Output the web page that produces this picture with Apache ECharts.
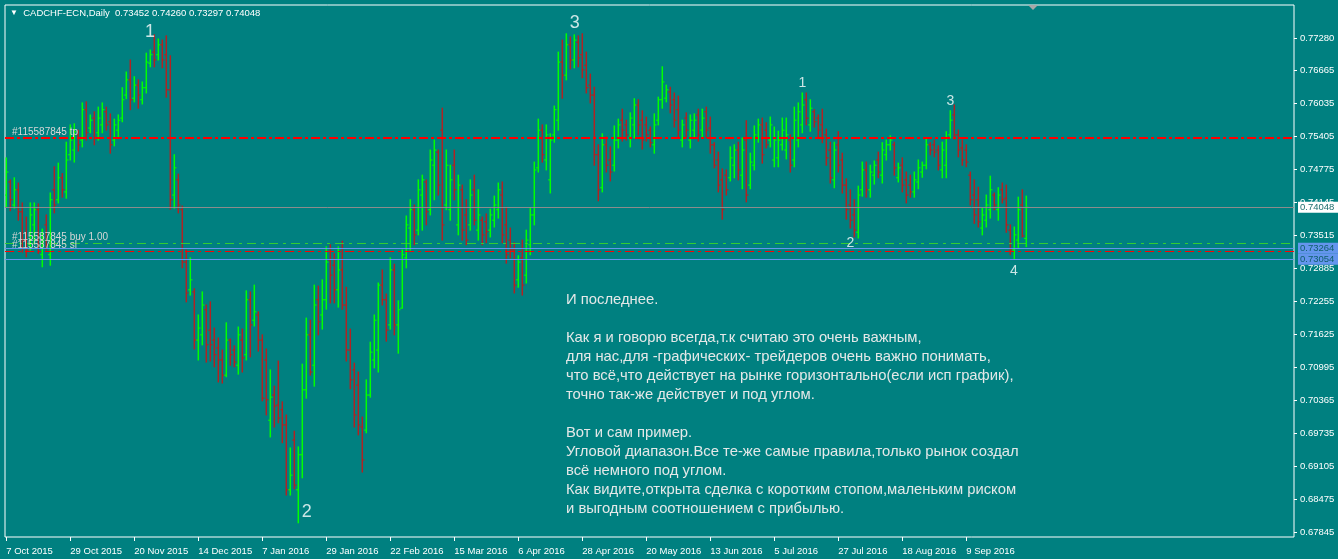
<!DOCTYPE html>
<html><head><meta charset="utf-8">
<style>html,body{margin:0;padding:0;background:#008080;}#c{width:1338px;height:559px;}</style>
<script src="https://cdn.jsdelivr.net/npm/echarts@6/dist/echarts.min.js"></script>
</head><body><div id="c"></div>
<script>
const symbolName = 'CADCHF-ECN,Daily';
const openP = [
0.7428,0.7453,0.7409,0.7438,0.7396,0.7342,0.7333,0.7371,0.7400,0.7314,0.7371,0.7314,0.7438,0.7419,0.7461,0.7434,
0.7505,0.7514,0.7543,0.7533,0.7591,0.7556,0.7575,0.7547,0.7562,0.7587,0.7568,0.7533,0.7552,0.7575,0.7619,0.7648,
0.7613,0.7638,0.7610,0.7633,0.7680,0.7701,0.7696,0.7715,0.7696,0.7629,0.7428,0.7457,0.7400,0.7300,0.7247,0.7243,
0.7151,0.7161,0.7209,0.7170,0.7151,0.7136,0.7113,0.7084,0.7151,0.7132,0.7103,0.7151,0.7123,0.7228,0.7189,0.7199,
0.7151,0.7113,0.6998,0.7046,0.7027,0.7018,0.6989,0.6865,0.6960,0.6865,0.6932,0.7056,0.7161,0.7103,0.7228,0.7199,
0.7228,0.7304,0.7294,0.7247,0.7285,0.7218,0.7132,0.7094,0.7065,0.6985,0.6979,0.7046,0.7113,0.7132,0.7256,0.7228,
0.7180,0.7285,0.7180,0.7212,0.7308,0.7365,0.7400,0.7361,0.7428,0.7453,0.7400,0.7485,0.7510,0.7552,0.7409,0.7400,
0.7485,0.7371,0.7438,0.7390,0.7371,0.7438,0.7361,0.7380,0.7377,0.7361,0.7380,0.7400,0.7428,0.7371,0.7342,0.7323,
0.7266,0.7308,0.7275,0.7333,0.7390,0.7480,0.7552,0.7495,0.7457,0.7543,0.7571,0.7682,0.7657,0.7715,0.7686,0.7720,
0.7696,0.7676,0.7638,0.7619,0.7505,0.7442,0.7524,0.7495,0.7485,0.7533,0.7571,0.7562,0.7537,0.7562,0.7600,0.7571,
0.7562,0.7552,0.7524,0.7571,0.7610,0.7613,0.7625,0.7610,0.7591,0.7533,0.7575,0.7533,0.7552,0.7581,0.7552,0.7587,
0.7556,0.7524,0.7495,0.7457,0.7466,0.7461,0.7485,0.7514,0.7466,0.7533,0.7447,0.7485,0.7537,0.7562,0.7552,0.7533,
0.7495,0.7499,0.7524,0.7514,0.7533,0.7495,0.7533,0.7562,0.7610,0.7562,0.7587,0.7575,0.7562,0.7543,0.7514,0.7457,
0.7524,0.7495,0.7447,0.7409,0.7390,0.7357,0.7438,0.7476,0.7438,0.7466,0.7495,0.7466,0.7505,0.7524,0.7524,0.7461,
0.7485,0.7457,0.7447,0.7434,0.7453,0.7472,0.7485,0.7524,0.7524,0.7514,0.7476,0.7485,0.7543,0.7581,0.7543,0.7518,
0.7514,0.7466,0.7428,0.7419,0.7365,0.7380,0.7400,0.7428,0.7400,0.7438,0.7422,0.7361,0.7323,0.7342,0.7409,0.73452];
const highP = [
0.7499,0.7457,0.7461,0.7451,0.7413,0.7386,0.7413,0.7413,0.7411,0.7363,0.7390,0.7432,0.7482,0.7489,0.7469,0.7529,
0.7562,0.7564,0.7552,0.7604,0.7606,0.7581,0.7587,0.7596,0.7604,0.7596,0.7583,0.7573,0.7581,0.7633,0.7663,0.7686,
0.7654,0.7648,0.7644,0.7699,0.7705,0.7734,0.7726,0.7724,0.7732,0.7694,0.7505,0.7468,0.7407,0.7323,0.7308,0.7249,
0.7199,0.7243,0.7218,0.7224,0.7174,0.7155,0.7132,0.7184,0.7153,0.7140,0.7176,0.7172,0.7245,0.7243,0.7256,0.7205,
0.7161,0.7134,0.7094,0.7063,0.7111,0.7033,0.7008,0.6945,0.6977,0.6947,0.7105,0.7193,0.7189,0.7256,0.7254,0.7266,
0.7329,0.7333,0.7316,0.7329,0.7340,0.7252,0.7172,0.7107,0.7090,0.7004,0.7075,0.7147,0.7199,0.7260,0.7285,0.7239,
0.7308,0.7296,0.7226,0.7323,0.7388,0.7419,0.7409,0.7457,0.7466,0.7457,0.7514,0.7533,0.7514,0.7594,0.7514,0.7485,
0.7514,0.7466,0.7447,0.7419,0.7457,0.7466,0.7438,0.7386,0.7392,0.7401,0.7426,0.7451,0.7453,0.7405,0.7365,0.7337,
0.7312,0.7342,0.7361,0.7403,0.7491,0.7573,0.7562,0.7562,0.7545,0.7598,0.7701,0.7724,0.7736,0.7730,0.7734,0.7732,
0.7736,0.7701,0.7659,0.7634,0.7524,0.7545,0.7539,0.7520,0.7560,0.7573,0.7592,0.7571,0.7585,0.7612,0.7610,0.7589,
0.7577,0.7558,0.7583,0.7615,0.7673,0.7638,0.7634,0.7623,0.7617,0.7571,0.7585,0.7581,0.7583,0.7592,0.7592,0.7596,
0.7577,0.7528,0.7510,0.7478,0.7476,0.7520,0.7524,0.7529,0.7537,0.7570,0.7508,0.7560,0.7573,0.7575,0.7566,0.7577,
0.7558,0.7550,0.7575,0.7575,0.7543,0.7596,0.7604,0.7623,0.7623,0.7610,0.7591,0.7581,0.7592,0.7554,0.7529,0.7529,
0.7549,0.7508,0.7459,0.7438,0.7419,0.7445,0.7491,0.7491,0.7485,0.7493,0.7510,0.7528,0.7533,0.7541,0.7529,0.7489,
0.7499,0.7472,0.7466,0.7472,0.7495,0.7491,0.7535,0.7528,0.7533,0.7522,0.7529,0.7549,0.7589,0.7600,0.7552,0.7533,
0.7524,0.7472,0.7457,0.7443,0.7403,0.7428,0.7464,0.7432,0.7442,0.7451,0.7447,0.7371,0.7367,0.7424,0.7438,0.74260];
const lowP = [
0.7405,0.7398,0.7403,0.7380,0.7319,0.7310,0.7323,0.7338,0.7317,0.7291,0.7323,0.7294,0.7394,0.7413,0.7424,0.7422,
0.7495,0.7491,0.7512,0.7520,0.7533,0.7547,0.7524,0.7533,0.7547,0.7552,0.7508,0.7522,0.7539,0.7568,0.7612,0.7591,
0.7606,0.7594,0.7602,0.7623,0.7673,0.7673,0.7686,0.7671,0.7615,0.7401,0.7403,0.7394,0.7289,0.7224,0.7237,0.7134,
0.7113,0.7142,0.7109,0.7111,0.7100,0.7071,0.7069,0.7081,0.7103,0.7100,0.7086,0.7090,0.7113,0.7119,0.7178,0.7130,
0.7035,0.7008,0.6966,0.6985,0.6993,0.6955,0.6855,0.6855,0.6867,0.6802,0.6888,0.7040,0.7084,0.7063,0.7161,0.7172,
0.7210,0.7222,0.7222,0.7214,0.7210,0.7111,0.7058,0.6985,0.6970,0.6899,0.6974,0.7042,0.7098,0.7090,0.7218,0.7149,
0.7172,0.7161,0.7126,0.7212,0.7289,0.7323,0.7333,0.7352,0.7361,0.7371,0.7390,0.7419,0.7428,0.7342,0.7400,0.7380,
0.7419,0.7352,0.7342,0.7333,0.7361,0.7371,0.7342,0.7333,0.7337,0.7348,0.7367,0.7384,0.7337,0.7298,0.7308,0.7241,
0.7252,0.7237,0.7260,0.7314,0.7371,0.7472,0.7491,0.7476,0.7432,0.7529,0.7552,0.7613,0.7648,0.7669,0.7671,0.7673,
0.7652,0.7623,0.7604,0.7485,0.7417,0.7434,0.7472,0.7455,0.7474,0.7518,0.7531,0.7533,0.7520,0.7537,0.7543,0.7516,
0.7531,0.7520,0.7508,0.7562,0.7594,0.7606,0.7585,0.7558,0.7539,0.7520,0.7537,0.7518,0.7537,0.7531,0.7539,0.7537,
0.7508,0.7480,0.7434,0.7382,0.7428,0.7455,0.7461,0.7457,0.7440,0.7415,0.7440,0.7476,0.7529,0.7489,0.7518,0.7520,
0.7482,0.7482,0.7514,0.7497,0.7472,0.7482,0.7520,0.7547,0.7562,0.7550,0.7558,0.7539,0.7528,0.7485,0.7451,0.7442,
0.7472,0.7432,0.7382,0.7365,0.7348,0.7346,0.7426,0.7424,0.7424,0.7449,0.7461,0.7451,0.7495,0.7514,0.7466,0.7453,
0.7434,0.7413,0.7424,0.7424,0.7440,0.7462,0.7478,0.7505,0.7501,0.7476,0.7461,0.7461,0.7537,0.7535,0.7501,0.7485,
0.7482,0.7409,0.7374,0.7367,0.7352,0.7367,0.7384,0.7400,0.7380,0.7413,0.7357,0.7314,0.7306,0.7327,0.7348,0.73297];
const closeP = [
0.7472,0.7419,0.7438,0.7396,0.7342,0.7323,0.7390,0.7400,0.7333,0.7342,0.7333,0.7419,0.7409,0.7461,0.7438,0.7495,
0.7533,0.7549,0.7524,0.7591,0.7547,0.7571,0.7537,0.7575,0.7591,0.7562,0.7524,0.7562,0.7571,0.7610,0.7648,0.7610,
0.7638,0.7619,0.7633,0.7682,0.7696,0.7686,0.7715,0.7686,0.7629,0.7419,0.7480,0.7409,0.7300,0.7241,0.7266,0.7151,
0.7174,0.7218,0.7142,0.7142,0.7123,0.7113,0.7084,0.7151,0.7123,0.7109,0.7161,0.7117,0.7228,0.7180,0.7205,0.7151,
0.7040,0.7037,0.7042,0.7025,0.7002,0.6989,0.6865,0.6893,0.6874,0.6932,0.7056,0.7161,0.7090,0.7218,0.7186,0.7228,
0.7300,0.7275,0.7247,0.7285,0.7218,0.7132,0.7075,0.7008,0.6989,0.6922,0.7046,0.7128,0.7189,0.7256,0.7228,0.7170,
0.7285,0.7180,0.7209,0.7314,0.7371,0.7400,0.7352,0.7438,0.7457,0.7396,0.7495,0.7514,0.7447,0.7371,0.7485,0.7457,
0.7438,0.7447,0.7361,0.7342,0.7428,0.7380,0.7390,0.7352,0.7358,0.7390,0.7409,0.7438,0.7352,0.7314,0.7323,0.7256,
0.7300,0.7256,0.7342,0.7390,0.7476,0.7552,0.7505,0.7543,0.7533,0.7591,0.7682,0.7657,0.7715,0.7686,0.7724,0.7690,
0.7667,0.7633,0.7619,0.7505,0.7438,0.7524,0.7485,0.7472,0.7533,0.7562,0.7552,0.7543,0.7575,0.7600,0.7562,0.7533,
0.7543,0.7528,0.7562,0.7610,0.7644,0.7629,0.7600,0.7571,0.7552,0.7562,0.7552,0.7571,0.7571,0.7543,0.7575,0.7552,
0.7524,0.7485,0.7447,0.7400,0.7438,0.7499,0.7514,0.7476,0.7514,0.7428,0.7491,0.7543,0.7562,0.7505,0.7524,0.7562,
0.7533,0.7533,0.7552,0.7543,0.7485,0.7571,0.7587,0.7600,0.7575,0.7594,0.7568,0.7552,0.7537,0.7499,0.7461,0.7514,
0.7485,0.7447,0.7400,0.7380,0.7361,0.7428,0.7476,0.7438,0.7472,0.7485,0.7472,0.7514,0.7524,0.7533,0.7480,0.7480,
0.7447,0.7428,0.7434,0.7457,0.7480,0.7485,0.7524,0.7514,0.7510,0.7485,0.7514,0.7537,0.7571,0.7543,0.7514,0.7495,
0.7491,0.7419,0.7390,0.7377,0.7390,0.7409,0.7438,0.7409,0.7428,0.7419,0.7371,0.7323,0.7352,0.7400,0.7350,0.74048];

const dateTickIndex = [0,16,32,48,64,80,96,112,128,144,160,176,192,208,224,240];
const dateTickLabels = ['7 Oct 2015','29 Oct 2015','20 Nov 2015','14 Dec 2015','7 Jan 2016','29 Jan 2016',
  '22 Feb 2016','15 Mar 2016','6 Apr 2016','28 Apr 2016','20 May 2016','13 Jun 2016','5 Jul 2016',
  '27 Jul 2016','18 Aug 2016','9 Sep 2016'];
const priceTicks = [0.67845,0.68475,0.69105,0.69735,0.70365,0.70995,0.71625,0.72255,0.72885,0.73515,
  0.74145,0.74775,0.75405,0.76035,0.76665,0.77280];

const tpLevel = 0.7537;
const entryLevel = 0.7335;
const slLevel = 0.7321;
const bidLevel = 0.74048;
const blueLevels = [0.73264, 0.73054];
const orderId = '#115587845';

// wave labels: [bar position, price, text, font size]
const waveMarks = [
  [35.9, 0.7740, '1', 18], [75.1, 0.6822, '2', 18], [142.1, 0.7756, '3', 18],
  [199.05, 0.7642, '1', 14], [211.05, 0.7336, '2', 14], [236.05, 0.7607, '3', 14], [251.9, 0.7282, '4', 14]
];

const commentLines = [
  'И последнее.',
  '',
  'Как я и говорю всегда,т.к считаю это очень важным,',
  'для нас,для -графических- трейдеров очень важно понимать,',
  'что всё,что действует на рынке горизонтально(если исп график),',
  'точно так-же действует и под углом.',
  '',
  'Вот и сам пример.',
  'Угловой диапазон.Все те-же самые правила,только рынок создал',
  'всё немного под углом.',
  'Как видите,открыта сделка с коротким стопом,маленьким риском',
  'и выгодным соотношением с прибылью.'
];

const UP = '#00FF00', DOWN = '#B22222', BG = '#008080';
const FONT = '"Liberation Sans", Arial, sans-serif';

const ohlc = openP.map((o, i) => [i, o, highP[i], lowP[i], closeP[i]]);
const n = ohlc.length;
const f5 = v => v.toFixed(5);

const chart = echarts.init(document.getElementById('c'), null, {renderer: 'canvas'});

function renderBar(params, api) {
  const i = api.value(0);
  const o = api.coord([i, api.value(1)]);
  const h = api.coord([i, api.value(2)]);
  const l = api.coord([i, api.value(3)]);
  const c = api.coord([i, api.value(4)]);
  const x = h[0];
  const col = api.value(4) >= api.value(1) ? UP : DOWN;
  const st = {stroke: col, lineWidth: 1.5};
  return {type: 'group', children: [
    {type: 'line', shape: {x1: x, y1: h[1] - 0.5, x2: x, y2: l[1] + 0.5}, style: st},
    {type: 'line', shape: {x1: x - 2.2, y1: o[1], x2: x, y2: o[1]}, style: {stroke: col, lineWidth: 1}},
    {type: 'line', shape: {x1: x, y1: c[1], x2: x + 2.2, y2: c[1]}, style: {stroke: col, lineWidth: 1}}
  ]};
}

const orderLabel = (txt) => ({show: true, position: 'insideStartTop', formatter: txt, color: '#D6D6D6',
  fontFamily: FONT, fontSize: 10, distance: [7, 1]});
const boxLabel = (bg, fg) => ({show: true, position: 'end', formatter: p => f5(p.value), color: fg,
  backgroundColor: bg, fontFamily: FONT, fontSize: 9.5, padding: [1, 6, 0, 2], distance: 4});

const option = {
  backgroundColor: BG,
  animation: false,
  title: {
    text: '{t|▼}  ' + symbolName + '  ' + [openP[n-1], highP[n-1], lowP[n-1], closeP[n-1]].map(f5).join(' '),
    left: 10, top: 8, padding: 0,
    textStyle: {color: '#FFFFFF', fontFamily: FONT, fontSize: 9.5, fontWeight: 'normal',
      rich: {t: {fontSize: 8, color: '#FFFFFF'}}}
  },
  grid: {left: 5, right: 44, top: 5, bottom: 22, show: true, borderColor: '#FFFFFF', borderWidth: 1,
    backgroundColor: BG},
  xAxis: {
    type: 'value', min: -0.325, max: 321.925,
    splitLine: {show: false},
    axisLine: {show: false, onZero: false},
    axisTick: {show: true, customValues: dateTickIndex, length: 4, lineStyle: {color: '#FFFFFF'}},
    axisLabel: {customValues: dateTickIndex, color: '#FFFFFF', fontFamily: FONT, fontSize: 9.5,
      align: 'left', margin: 9,
      formatter: v => dateTickLabels[dateTickIndex.indexOf(Math.round(v))] || ''}
  },
  yAxis: {
    type: 'value', position: 'right', min: 0.67749, max: 0.77910,
    splitLine: {show: false},
    axisLine: {show: false, onZero: false},
    axisTick: {show: true, customValues: priceTicks, length: 3, lineStyle: {color: '#FFFFFF'}},
    axisLabel: {customValues: priceTicks, color: '#FFFFFF', fontFamily: FONT, fontSize: 9.5, margin: 6,
      formatter: v => f5(v)}
  },
  graphic: [
    {type: 'polygon', shape: {points: [[1028, 5], [1038, 5], [1033, 10]]}, style: {fill: '#A8A8A8'}, z: 10},
    {type: 'text', left: 566, top: 290, z: 10,
      style: {text: commentLines.join('\n'), fill: '#E4E8E8', font: '14.8px ' + FONT, lineHeight: 19}}
  ],
  series: [
    {
      type: 'custom', name: 'bars', renderItem: renderBar, data: ohlc,
      encode: {x: 0, y: [1, 2, 3, 4]}, clip: true, z: 3,
      markLine: {
        silent: true, symbol: ['none', 'none'], z: 5, precision: 5,
        data: [
          {yAxis: tpLevel, lineStyle: {color: '#FF0000', width: 2, type: [9, 3, 3, 3]}, label: orderLabel(orderId + ' tp')},
          {yAxis: bidLevel, lineStyle: {color: '#8C8C8C', width: 1, type: 'solid'}, label: boxLabel('#FFFFFF', '#1F6F6F')},
          {yAxis: entryLevel, lineStyle: {color: '#32CD32', width: 1, type: [9, 5, 3, 5]}, label: orderLabel(orderId + ' buy 1.00')},
          {yAxis: blueLevels[0], lineStyle: {color: '#6495ED', width: 1.2, type: 'solid'}, label: boxLabel('#6495ED', '#0E5F6A')},
          {yAxis: slLevel, lineStyle: {color: '#FF0000', width: 1.2, type: [9, 4, 3, 4]}, label: orderLabel(orderId + ' sl')},
          {yAxis: blueLevels[1], lineStyle: {color: '#6495ED', width: 1.2, type: 'solid'}, label: boxLabel('#6495ED', '#0E5F6A')}
        ]
      }
    },
    {
      type: 'scatter', name: 'waves', symbolSize: 1, itemStyle: {color: 'rgba(0,0,0,0)'}, z: 6,
      data: waveMarks.map(w => ({value: [w[0], w[1]], label: {show: true, position: 'inside', formatter: w[2],
        color: '#FFFFFF', fontSize: w[3], fontFamily: FONT}}))
    }
  ]
};
chart.setOption(option);
</script>
</body></html>
